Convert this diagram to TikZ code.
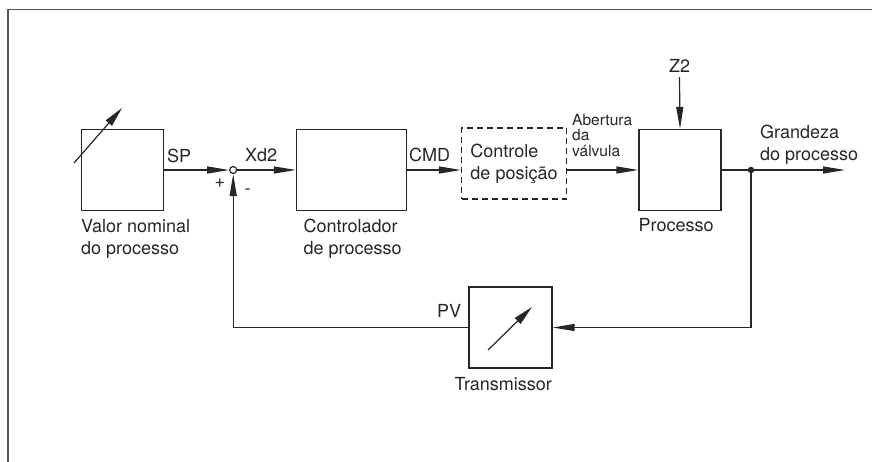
\documentclass[tikz,border=0pt]{standalone}
\usepackage{fontspec}
\setmainfont{TeX Gyre Heros}
\usepackage{tikz}
\usetikzlibrary{positioning, arrows.meta, calc}
\definecolor{ink}{HTML}{262626}
\definecolor{framegray}{HTML}{555555}

\begin{document}
\begin{tikzpicture}[
        x=1pt, y=-1pt,
        box/.style  = {draw=ink, line width=1.2pt, minimum width=82pt, minimum height=81pt, inner sep=0},
        dashbox/.style = {draw=ink, line width=1.2pt, dash pattern=on 6pt off 4pt, minimum width=105pt, minimum height=71pt, align=left, text=ink, font=\fontsize{18}{22}\selectfont},
        lbl/.style = {inner sep=0, align=left, text=ink, font=\fontsize{18}{22}\selectfont},
        smalllbl/.style = {inner sep=0, align=left, text=ink, font=\fontsize{15.5}{15.5}\selectfont},
        sumpt/.style = {draw=ink, line width=1.2pt, circle, fill=white, minimum size=7pt, inner sep=0},
        dot/.style = {circle, fill=ink, minimum size=6.5pt, inner sep=0},
        arrow/.style = {-{Triangle[length=22pt, width=7pt]}, line width=1.2pt, draw=ink},
        meter/.style = {-{Triangle[length=20pt, width=8pt]}, line width=1.2pt, draw=ink},
        frame/.style = {draw=framegray, line width=1.5pt},
    ]
        \useasboundingbox (0,0) rectangle (872,462);
        \draw[frame] (8,462) -- (8,9.5) -- (872,9.5);

        % blocks
        \node[box] (valor) at (122.5,170) {};
        \node[sumpt, right=65pt of valor] (sum) {};
        \node[box, minimum width=110pt] (ctrl) at (351.5,170) {};
        \node[dashbox] (pos) at (514,163.5) {Controle\\de posição};
        \node[box] (proc) at (680,170) {};
        \node[box, minimum width=83pt] (trans) at (510.5,327.5) {};
        \node[dot] (jn) at (751,170) {};
        \coordinate (outend) at (845,170);

        % setpoint / transmitter symbols
        \draw[meter] (74,163) -- (122,108);
        \draw[meter] (488,350) -- (532,307);

        % labels
        \node[lbl, below=8pt of valor.south west, anchor=north west] (valorlbl) {Valor nominal\\do processo};
        \node[lbl, below=8pt of ctrl.south west, anchor=north west, xshift=7.5pt] (ctrllbl) {Controlador\\de processo};
        \node[lbl, below=7.5pt of proc.south west, anchor=north west] (proclbl) {Processo};
        \node[lbl, below=9pt of trans.south west, anchor=north west, xshift=-14pt] (translbl) {Transmissor};
        \node[lbl, anchor=north west] (grandeza) at (760,125) {Grandeza\\do processo};
        \node[smalllbl, anchor=north west] (abertura) at (572,114) {Abertura\\da\\válvula};
        \node[lbl, anchor=base west] (sp) at (167,163) {SP};
        \node[lbl, anchor=base west] (xd) at (245,162) {Xd2};
        \node[lbl, anchor=base west] (cmd) at (409,162) {CMD};
        \node[lbl, anchor=base west] (pv) at (437,317) {PV};
        \node[lbl, anchor=base] (plus) at (220,188) {+};
        \node[lbl, anchor=base] (minus) at (247.5,195) {-};
        \node[lbl, anchor=base] (z2) at (679.5,73) {Z2};

        % signal flow
        \draw[arrow] (valor.east) -- (sum.west);
        \draw[arrow] (sum.east) -- (ctrl.west);
        \draw[arrow] (ctrl.east) -- (ctrl.east -| pos.west);
        \draw[arrow] (pos.east |- proc.west) -- (proc.west);
        \draw[arrow] ([yshift=-4pt]z2.south) -- (proc.north);
        \draw[arrow] (proc.east) -- (outend);
        \draw[arrow] (jn.center) |- (trans.east);
        \draw[arrow] (trans.west) -| (sum.south);
    \end{tikzpicture}
\end{document}
